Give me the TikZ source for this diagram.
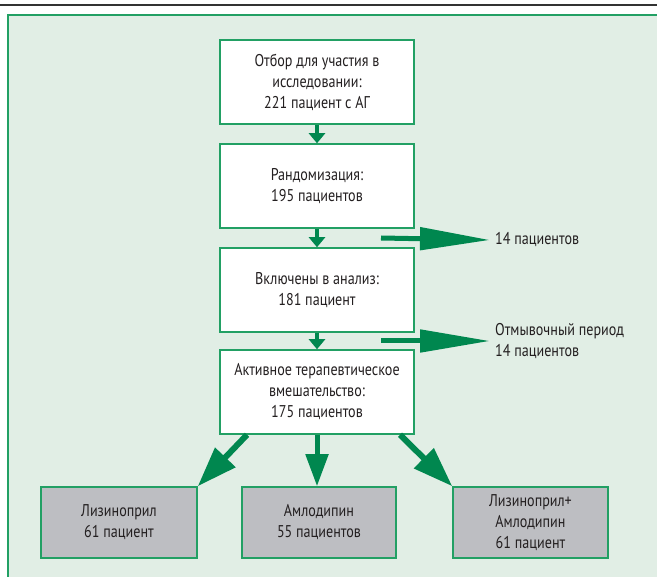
\documentclass[tikz,border=0pt]{standalone}
\usepackage{fontspec}
\setmainfont{PT Sans}[FakeStretch=0.83]
\usetikzlibrary{arrows.meta}
\definecolor{panelbg}{HTML}{E1EEE5}
\definecolor{pgreen}{HTML}{22A064}
\definecolor{agreen}{HTML}{00874F}
\definecolor{boxgray}{HTML}{BDBEC2}
\definecolor{txt}{HTML}{231F20}
\begin{document}
\begin{tikzpicture}[x=1pt,y=-1pt,
  wbox/.style={draw=pgreen,line width=1.5pt,fill=white,minimum width=194pt,minimum height=84pt,
    align=center,text=txt,font=\fontsize{17}{21}\selectfont,inner sep=0pt},
  gbox/.style={wbox,fill=boxgray,minimum width=156pt,minimum height=71pt},
  lbl/.style={anchor=west,align=left,text=txt,font=\fontsize{17}{21}\selectfont,inner sep=0pt},
  downarr/.style={agreen,line width=4pt,-{Triangle[length=10pt,width=16pt]}},
  sidearr/.style={agreen,line width=5pt,-{Triangle[length=70pt,width=22pt]}},
  diagarr/.style={agreen,line width=6pt,-{Triangle[length=40pt,width=27pt]}},
  midarr/.style={agreen,line width=5pt,-{Triangle[length=32pt,width=22pt]}}
]
\useasboundingbox (0,0) rectangle (657,577);
\clip (0,0) rectangle (657,577);
% panel
\fill[panelbg] (8,15) rectangle (670,590);
\draw[pgreen,line width=1.5pt] (670,15) -- (8,15) -- (8,590);
% top rule
\draw[line width=2pt,color=black!80] (0,5) -- (657,5);

% boxes
\node[wbox] (box1) at (317,82) {Отбор для участия в\\исследовании:\\221 пациент с АГ};
\node[wbox] (box2) at (317,186) {Рандомизация:\\195 пациентов};
\node[wbox] (box3) at (317,290) {Включены в анализ:\\181 пациент};
\node[wbox] (box4) at (317,392) {Активное терапевтическое\\вмешательство:\\175 пациентов};

\node[gbox] (b1) at (119,522.5) {Лизиноприл\\61 пациент};
\node[gbox,minimum width=154pt] (b2) at (319,522.5) {Амлодипин\\55 пациентов};
\node[gbox,minimum width=155pt] (b3) at (530.5,522.5) {Лизиноприл+\\Амлодипин\\61 пациент};

\node[lbl] (l1) at (495,240) {14 пациентов};
\node[lbl] (l2) at (495,341) {Отмывочный период\\14 пациентов};

% down arrows
\draw[downarr] (box1.south) -- (box2.north);
\draw[downarr] (box2.south) -- (box3.north);
\draw[downarr] (box3.south) -- (box4.north);

% side arrows
\coordinate (s1) at (381,238);
\coordinate (s2) at (381,341);
\draw[sidearr] (s1) -- (l1.west -| 490,0);
\draw[sidearr] (s2) -- (490,341);

% branch arrows
\draw[diagarr] (box4.south -| 247,0) -- (b1.north east);
\draw[midarr] (box4.south) -- (box4.south |- b2.north);
\draw[diagarr] (box4.south -| 400,0) -- (b3.north west);
\end{tikzpicture}
\end{document}
